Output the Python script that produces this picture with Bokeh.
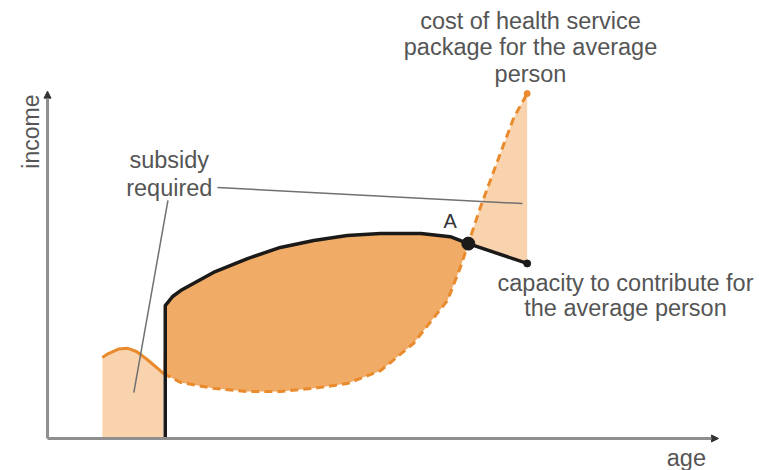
from bokeh.plotting import figure
from bokeh.models import Range1d, Arrow, NormalHead, ColumnDataSource
from bokeh.core.properties import value
from bokeh.embed import file_html
from bokeh.resources import INLINE

# ---- data (age / income, arbitrary units 0-100) ----
cap_age = [17.6, 17.6, 18.7, 19.9, 24.8, 29.9, 34.8, 39.8, 44.8, 49.8, 55.8, 60.2, 62.9]
cap_inc = [0, 38.2, 40.8, 42.5, 47.7, 51.7, 54.9, 56.9, 58.3, 58.9, 58.9, 58.0, 56.0]
cap_tail_age = [62.9, 71.7]
cap_tail_inc = [56.0, 50.3]

cost_solid_age = [8.2, 9.1, 10.6, 12.0, 13.3, 14.9, 16.3, 17.3]
cost_solid_inc = [23.3, 24.4, 25.7, 25.9, 25.0, 22.7, 20.4, 18.7]
cost_dash_age = [17.3, 19.9, 24.8, 29.9, 34.8, 39.8, 44.8, 49.8, 54.7, 59.8, 61.7, 62.9]
cost_dash_inc = [18.7, 16.1, 14.4, 13.5, 13.5, 14.4, 15.8, 19.5, 27.3, 39.7, 49.1, 56.0]
cost_up_age = [62.9, 64.7, 67.3, 69.7, 71.7]
cost_up_inc = [56.0, 66.4, 79.9, 92.2, 99.1]

point_a = (62.9, 56.0)

label_x = [72.2, 72.2, 72.2, 86.4, 86.4, 18.2, 18.2, 95.5]
label_y = [120.1, 112.4, 104.6, 44.8, 37.4, 79.9, 72.1, -5.5]
label_text = ["cost of health service", "package for the average", "person",
              "capacity to contribute for", "the average person",
              "subsidy", "required", "age"]

LIGHT = "#f9d3ae"
DARK = "#f0ab66"
ORANGE = "#e98a2c"
BLACK = "#1c1a18"
AXIS = "#8f8f8f"
TEXT = "#555555"
FONT = value("Liberation Sans")

p = figure(width=759, height=470, output_backend="svg", toolbar_location=None,
           x_range=Range1d(-7.03, 106.43), y_range=Range1d(-9.20, 125.86),
           min_border=0)
p.axis.visible = False
p.grid.visible = False
p.outline_line_color = None
p.background_fill_color = "white"

# light fill: subsidy on the left
p.patch(cost_solid_age + [cost_solid_age[-1], cost_solid_age[0]],
        cost_solid_inc + [0, 0], fill_color=LIGHT, line_color=None)
# light fill: subsidy on the right
p.patch(cost_up_age + cap_tail_age[::-1], cost_up_inc + cap_tail_inc[::-1],
        fill_color=LIGHT, line_color=None)
# dark fill between capacity and cost
p.patch(cap_age[1:] + cost_dash_age[::-1], cap_inc[1:] + cost_dash_inc[::-1],
        fill_color=DARK, line_color=None)

# axes
p.add_layout(Arrow(end=NormalHead(size=7, fill_color="#333333", line_color="#333333"),
                   x_start=0, y_start=0, x_end=100.3, y_end=0,
                   line_color=AXIS, line_width=3))
p.add_layout(Arrow(end=NormalHead(size=7, fill_color="#333333", line_color="#333333"),
                   x_start=0, y_start=0, x_end=0, y_end=99.8,
                   line_color=AXIS, line_width=3))

# cost curve
p.line(cost_solid_age, cost_solid_inc, line_color=ORANGE, line_width=3)
p.line(cost_dash_age + cost_up_age[1:], cost_dash_inc + cost_up_inc[1:],
       line_color=ORANGE, line_width=3, line_dash="8 5")
p.scatter([cost_up_age[-1]], [cost_up_inc[-1]], size=6, color=ORANGE)

# capacity curve
p.line(cap_age, cap_inc, line_color=BLACK, line_width=3.5)
p.line(cap_tail_age, cap_tail_inc, line_color=BLACK, line_width=3.5)
p.scatter([point_a[0]], [point_a[1]], size=13, color=BLACK)
p.scatter([cap_tail_age[-1]], [cap_tail_inc[-1]], size=7, color=BLACK)

# leader lines
p.segment(x0=[18.0, 25.4], y0=[68.4, 72.1], x1=[12.9, 71.0], y1=[13.2, 67.5],
          line_color="#707070", line_width=1.5)

# texts
labels = ColumnDataSource(dict(x=label_x, y=label_y, t=label_text))
p.text(x="x", y="y", text="t", source=labels, text_font=FONT,
       text_font_size="23.5px", text_color=TEXT, text_align="center",
       text_baseline="middle")
p.text(x=[-2.5], y=[88.2], text=["income"], angle=1.5708, text_font=FONT,
       text_font_size="23px", text_color=TEXT, text_align="center",
       text_baseline="middle")
p.text(x=[60.2], y=[62.6], text=["A"], text_font=FONT, text_font_size="20px",
       text_color="#333333", text_align="center", text_baseline="middle")

open("out.html", "w").write(file_html(p, INLINE))
